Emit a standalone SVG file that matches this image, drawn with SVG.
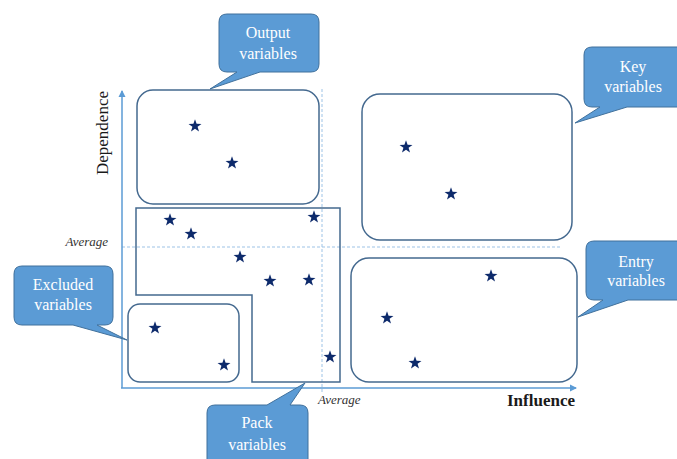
<svg xmlns="http://www.w3.org/2000/svg" width="677" height="459" viewBox="0 0 677 459">
<style>
.box{fill:none;stroke:#44698f;stroke-width:1.5}
.call{fill:#5b9bd5;stroke:#41719c;stroke-width:1}
.ct{font-family:'Liberation Serif','Times New Roman',serif;font-size:16px;fill:#ffffff;text-anchor:middle}
.axis{stroke:#5b9bd5;stroke-width:1.5;fill:none}
.dash{stroke:#9dc3e6;stroke-width:1;stroke-dasharray:3,2;fill:none}
.avg{font-family:'Liberation Serif','Times New Roman',serif;font-style:italic;font-size:13px;fill:#333333}
.lab{font-family:'Liberation Serif','Times New Roman',serif;font-size:17px;fill:#1a1a1a}
.star{fill:#0d2a6b}
</style>
<defs>
<path id="star" d="M0,-6.8 L1.6,-2.2 L6.47,-2.1 L2.58,0.84 L4,5.5 L0,2.72 L-4,5.5 L-2.58,0.84 L-6.47,-2.1 L-1.6,-2.2 Z"/>
<marker id="arr" markerWidth="8" markerHeight="8" refX="6" refY="4" orient="auto" markerUnits="userSpaceOnUse">
<path d="M0,0.5 L7,4 L0,7.5 Z" fill="#5b9bd5"/>
</marker>
</defs>
<rect width="677" height="459" fill="#ffffff"/>
<g id="connectors">
<line class="dash" x1="322" y1="89" x2="322" y2="393"/>
<line class="dash" x1="122" y1="247" x2="562" y2="247"/>
<line class="axis" x1="122" y1="388" x2="122" y2="91" marker-end="url(#arr)"/>
<line class="axis" x1="121" y1="388" x2="576" y2="388" marker-end="url(#arr)"/>
</g>
<g id="labels">
<text class="avg" x="108" y="246" text-anchor="end">Average</text>
<text class="avg" x="318" y="404">Average</text>
<text class="lab" transform="translate(108,133) rotate(-90)" text-anchor="middle">Dependence</text>
<text class="lab" x="575" y="406" text-anchor="end" font-weight="bold">Influence</text>
</g>
<g id="output-box">
<rect class="box" x="137" y="90" width="182" height="114" rx="16"/>
<use href="#star" class="star" x="195" y="126"/>
<use href="#star" class="star" x="232" y="163"/>
</g>
<g id="key-box">
<rect class="box" x="362" y="94" width="210" height="146" rx="18"/>
<use href="#star" class="star" x="406" y="147"/>
<use href="#star" class="star" x="451" y="194"/>
</g>
<g id="pack-box">
<path class="box" d="M136,208 H340 V382 H252 V295 H136 Z"/>
<use href="#star" class="star" x="170" y="220"/>
<use href="#star" class="star" x="191" y="234"/>
<use href="#star" class="star" x="314" y="217"/>
<use href="#star" class="star" x="240" y="257"/>
<use href="#star" class="star" x="270" y="281"/>
<use href="#star" class="star" x="309" y="280"/>
<use href="#star" class="star" x="330" y="357"/>
</g>
<g id="excluded-box">
<rect class="box" x="128" y="304" width="111" height="78" rx="12"/>
<use href="#star" class="star" x="155" y="328"/>
<use href="#star" class="star" x="224" y="365"/>
</g>
<g id="entry-box">
<rect class="box" x="351" y="258" width="226" height="124" rx="18"/>
<use href="#star" class="star" x="491" y="276"/>
<use href="#star" class="star" x="387" y="318"/>
<use href="#star" class="star" x="415" y="363"/>
</g>
<g id="output-callout">
<path class="call" d="M227,14 H311 Q319,14 319,22 V64 Q319,72 311,72 H260 L210,89 L237,72 H227 Q219,72 219,64 V22 Q219,14 227,14 Z"/>
<text class="ct" x="268" y="38">Output</text>
<text class="ct" x="268" y="59">variables</text>
</g>
<g id="key-callout">
<path class="call" d="M592,47 H684 V107 H627 L575,123 L600,107 H592 Q584,107 584,99 V55 Q584,47 592,47 Z"/>
<text class="ct" x="633" y="72">Key</text>
<text class="ct" x="633" y="92">variables</text>
</g>
<g id="entry-callout">
<path class="call" d="M594,241 H684 V300 H628 L578,317 L603,300 H594 Q586,300 586,292 V249 Q586,241 594,241 Z"/>
<text class="ct" x="636" y="267">Entry</text>
<text class="ct" x="636" y="286">variables</text>
</g>
<g id="excluded-callout">
<path class="call" d="M22,266 H105 Q113,266 113,274 V317 Q113,325 105,325 H97 L127,340 L73,325 H22 Q14,325 14,317 V274 Q14,266 22,266 Z"/>
<text class="ct" x="63" y="290">Excluded</text>
<text class="ct" x="63" y="310">variables</text>
</g>
<g id="pack-callout">
<path class="call" d="M215,405 H267 L305,383 L290,405 H300 Q308,405 308,413 V470 H207 V413 Q207,405 215,405 Z"/>
<text class="ct" x="257" y="428">Pack</text>
<text class="ct" x="257" y="450">variables</text>
</g>
</svg>
